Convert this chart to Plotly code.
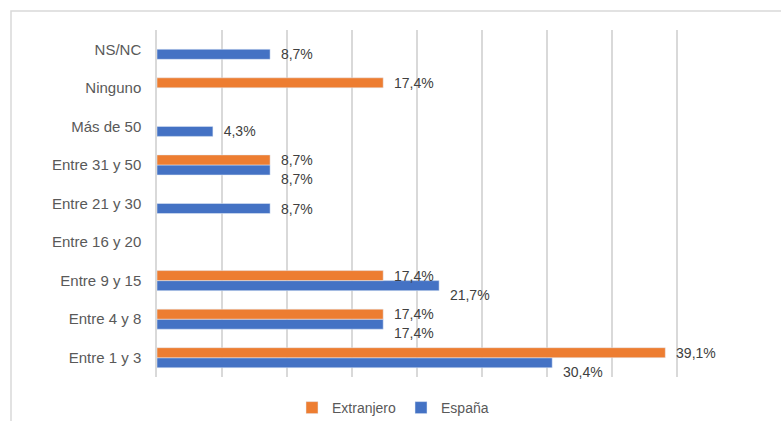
import plotly.graph_objects as go

categories = ["Entre 1 y 3", "Entre 4 y 8", "Entre 9 y 15", "Entre 16 y 20",
              "Entre 21 y 30", "Entre 31 y 50", "Más de 50", "Ninguno", "NS/NC"]
espana = [30.4, 17.4, 21.7, None, 8.7, 8.7, 4.3, None, 8.7]
extranjero = [39.1, 17.4, 17.4, None, None, 8.7, None, 17.4, None]

BLUE = "#4472C4"
ORANGE = "#ED7D31"
FONT = "Liberation Sans, Arial, sans-serif"
NB = "\u00a0"


def fmt(v):
    return NB * 2 + f"{v:.1f}".replace(".", ",") + "%"


# España label drops one half-line when it shares its category with an Extranjero bar
esp_text = []
for v, o in zip(espana, extranjero):
    if v is None:
        esp_text.append("")
    elif o is not None:
        esp_text.append(NB + "<br>" + fmt(v))
    else:
        esp_text.append(fmt(v))
ext_text = [fmt(v) if v is not None else "" for v in extranjero]

fig = go.Figure()
fig.add_trace(go.Bar(
    y=categories, x=espana, orientation="h", name="España",
    marker=dict(color=BLUE), text=esp_text, textposition="outside",
    constraintext="none", cliponaxis=False, hoverinfo="skip",
    textfont=dict(size=14, color="#404040", family=FONT),
))
fig.add_trace(go.Bar(
    y=categories, x=extranjero, orientation="h", name="Extranjero",
    marker=dict(color=ORANGE), text=ext_text, textposition="outside",
    constraintext="none", cliponaxis=False, hoverinfo="skip",
    textfont=dict(size=14, color="#404040", family=FONT),
))

fig.update_layout(
    width=781, height=421,
    margin=dict(l=157, r=39, t=30, b=44, autoexpand=False),
    barmode="group", bargap=0.48, bargroupgap=0,
    plot_bgcolor="white", paper_bgcolor="white",
    font=dict(family=FONT, color="#595959", size=15),
    showlegend=True,
    legend=dict(orientation="h", traceorder="reversed", x=(393 - 157) / 585, xanchor="center",
                y=-31 / 347, yanchor="middle", font=dict(size=14, color="#595959"),
                itemwidth=30),
    xaxis=dict(range=[0, 45], dtick=5, showgrid=True, gridcolor="#D9D9D9", gridwidth=1.5,
               showticklabels=False, zeroline=False, showline=False, ticks="",
               automargin=False),
    yaxis=dict(categoryorder="array", categoryarray=categories, showgrid=False,
               ticks="", ticklabelstandoff=11, showline=True, linecolor="#D9D9D9",
               linewidth=1.5, automargin=False,
               tickfont=dict(size=15, color="#595959")),
    shapes=[dict(type="rect", xref="paper", yref="paper",
                 x0=(11 - 157) / 585, x1=(790 - 157) / 585,
                 y0=(377 - 430) / 347, y1=(377 - 11) / 347,
                 line=dict(color="#D9D9D9", width=1.5), layer="below")],
)

fig.write_html("out.html", config={"displayModeBar": False},
               post_script="document.body.style.margin='0';")
